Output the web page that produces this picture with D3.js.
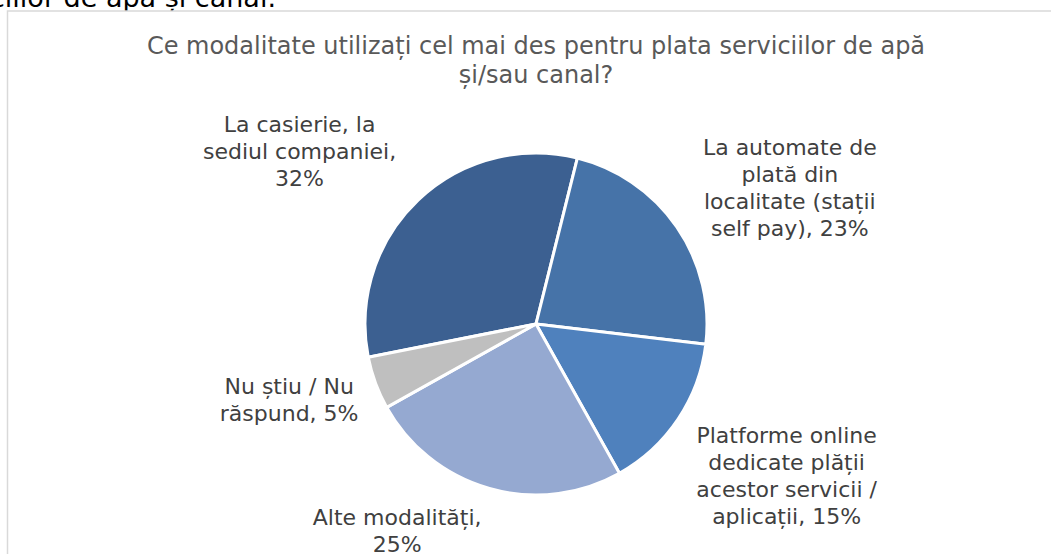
<!DOCTYPE html>
<html>
<head>
<meta charset="utf-8">
<script src="https://cdn.jsdelivr.net/npm/d3@7"></script>
<style>
  html, body { margin: 0; padding: 0; background: #fff; overflow: hidden; }
  svg { display: block; font-family: "DejaVu Sans", sans-serif; }
</style>
</head>
<body>
<div id="chart"></div>
<script>
// data
const categories = [
  ["La casierie, la", "sediul companiei,"],
  ["La automate de", "plată din", "localitate (stații", "self pay),"],
  ["Platforme online", "dedicate plății", "acestor servicii /", "aplicații,"],
  ["Alte modalități,"],
  ["Nu știu / Nu", "răspund,"]
]
const shares = [32, 23, 15, 25, 5]
const sliceColors = ["#3c6091", "#4673a8", "#4f81bd", "#95a9d1", "#bfbfbf"]
const titleLines = ["Ce modalitate utilizați cel mai des pentru plata serviciilor de apă", "și/sau canal?"]
const headText = "serviciilor de apă și canal."

// label placement (angle nudge in degrees, distance from centre, percent on own line)
const labelPlace = [[-10.2, 293, true], [6.4, 288, false], [-2.6, 293, false], [18.1, 249, true], [3.3, 258, false]]

const width = 1051, height = 554
const cx = 536, cy = 324, radius = 171
const startAngle = (14 - 32 * 3.6) * Math.PI / 180

const svg = d3.select("#chart").append("svg")
  .attr("width", width)
  .attr("height", height)

// clipped document text above the chart
svg.append("text")
  .attr("x", 276)
  .attr("y", 7)
  .attr("text-anchor", "end")
  .attr("font-size", 27)
  .attr("fill", "#000")
  .text(headText)

// chart area border (runs off the right and bottom)
svg.append("rect")
  .attr("x", 7.5)
  .attr("y", 11)
  .attr("width", 1100)
  .attr("height", 600)
  .attr("fill", "#fff")
  .attr("stroke", "#d9d9d9")
  .attr("stroke-width", 1.5)

const title = svg.append("text")
  .attr("text-anchor", "middle")
  .attr("font-size", 24)
  .attr("fill", "#595959")
titleLines.forEach((t, i) => {
  title.append("tspan")
    .attr("x", cx)
    .attr("y", 54 + i * 29)
    .text(t)
})

const pie = d3.pie()
  .value(d => d)
  .sort(null)
  .startAngle(startAngle)
  .endAngle(startAngle + 2 * Math.PI)

const arcs = pie(shares)

const arc = d3.arc()
  .innerRadius(0)
  .outerRadius(radius)

const g = svg.append("g")
  .attr("transform", `translate(${cx},${cy})`)

g.selectAll("path")
  .data(arcs)
  .join("path")
    .attr("d", arc)
    .attr("fill", (d, i) => sliceColors[i])
    .attr("stroke", "#fff")
    .attr("stroke-width", 3)
    .attr("stroke-linejoin", "round")

// data labels
const lineH = 27
g.selectAll("text.label")
  .data(arcs)
  .join("text")
    .attr("class", "label")
    .attr("text-anchor", "middle")
    .attr("font-size", 22)
    .attr("fill", "#404040")
    .each(function(d, i) {
      const [nudge, r, ownLine] = labelPlace[i]
      const mid = (d.startAngle + d.endAngle) / 2 + nudge * Math.PI / 180
      const pos = d3.arc().innerRadius(r).outerRadius(r).startAngle(mid).endAngle(mid).centroid()
      const lines = categories[i].slice()
      const pct = d.data + "%"
      if (ownLine) lines.push(pct)
      else lines[lines.length - 1] += " " + pct
      const el = d3.select(this)
      lines.forEach((t, k) => {
        el.append("tspan")
          .attr("x", pos[0])
          .attr("y", pos[1] + (k - (lines.length - 1) / 2) * lineH + 8)
          .text(t)
      })
    })
</script>
</body>
</html>
